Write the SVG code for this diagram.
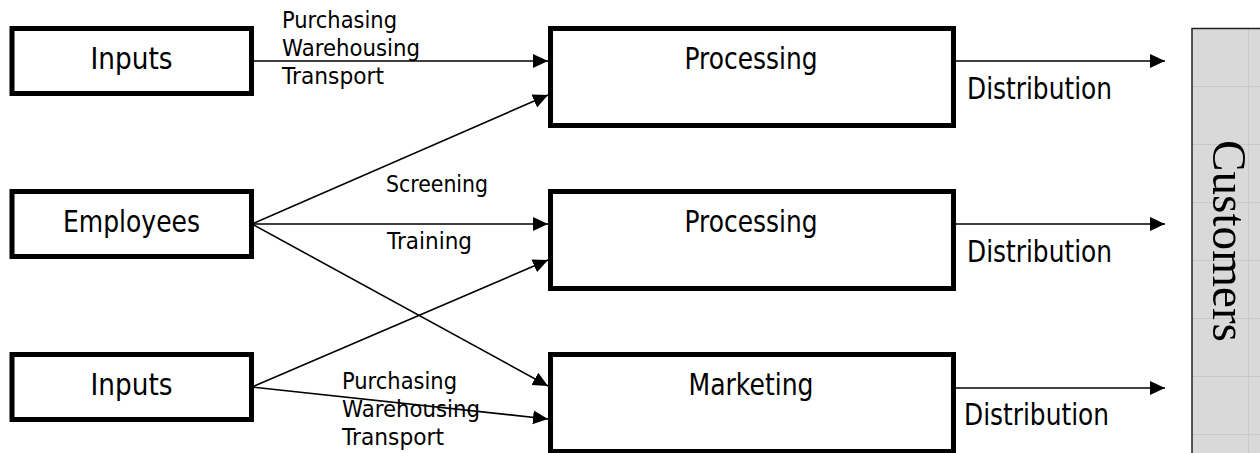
<svg xmlns="http://www.w3.org/2000/svg" width="1260" height="453" viewBox="0 0 1260 453">
<style>
.box{fill:#fff;stroke:#000;stroke-width:5}
.lbl{font-family:"DejaVu Sans","Liberation Sans",sans-serif;font-size:29.5px;fill:#000}
.sm{font-family:"DejaVu Sans","Liberation Sans",sans-serif;font-size:23.5px;fill:#000}
.conn{stroke:#000;stroke-width:1.6;fill:none;marker-end:url(#ah)}
</style>
<defs>
<marker id="ah" markerUnits="userSpaceOnUse" markerWidth="16" markerHeight="15" refX="15" refY="7" orient="auto">
<path d="M0,0 L15,7 L0,14 Z" fill="#000"/>
</marker>
<pattern id="grid" patternUnits="userSpaceOnUse" x="1192" y="28" width="58" height="58">
<rect width="58" height="58" fill="#d9d9d9"/>
<path d="M0,0.5 H58 M56.5,0 V58" stroke="#c9c9c9" stroke-width="1"/>
</pattern>
</defs>
<rect width="1260" height="453" fill="#fff"/>

<g id="connectors">
<line class="conn" x1="252" y1="61" x2="548" y2="61"/>
<line class="conn" x1="252" y1="224" x2="548" y2="95"/>
<line class="conn" x1="252" y1="224" x2="548" y2="224"/>
<line class="conn" x1="252" y1="224" x2="548" y2="386"/>
<line class="conn" x1="252" y1="387" x2="548" y2="260"/>
<line class="conn" x1="252" y1="387" x2="548" y2="419"/>
<line class="conn" x1="956" y1="61" x2="1165" y2="61"/>
<line class="conn" x1="956" y1="224" x2="1165" y2="224"/>
<line class="conn" x1="956" y1="388" x2="1165" y2="388"/>
</g>

<g id="labels">
<text class="sm" x="282" y="28" textLength="115" lengthAdjust="spacingAndGlyphs">Purchasing</text>
<text class="sm" x="282" y="56" textLength="138" lengthAdjust="spacingAndGlyphs">Warehousing</text>
<text class="sm" x="282" y="84" textLength="102" lengthAdjust="spacingAndGlyphs">Transport</text>
<text class="sm" x="386" y="192" textLength="102" lengthAdjust="spacingAndGlyphs">Screening</text>
<text class="sm" x="387" y="249" textLength="85" lengthAdjust="spacingAndGlyphs">Training</text>
<text class="sm" x="342" y="389" textLength="115" lengthAdjust="spacingAndGlyphs">Purchasing</text>
<text class="sm" x="342" y="417" textLength="138" lengthAdjust="spacingAndGlyphs">Warehousing</text>
<text class="sm" x="342" y="445" textLength="102" lengthAdjust="spacingAndGlyphs">Transport</text>
<text class="lbl" x="967" y="99" textLength="145" lengthAdjust="spacingAndGlyphs">Distribution</text>
<text class="lbl" x="967" y="262" textLength="145" lengthAdjust="spacingAndGlyphs">Distribution</text>
<text class="lbl" x="964" y="425" textLength="145" lengthAdjust="spacingAndGlyphs">Distribution</text>
</g>

<g id="inputs-top">
<rect class="box" x="12" y="28.5" width="239.5" height="65"/>
<text class="lbl" x="131.5" y="69" text-anchor="middle" textLength="82" lengthAdjust="spacingAndGlyphs">Inputs</text>
</g>
<g id="employees">
<rect class="box" x="12" y="191.5" width="239.5" height="65"/>
<text class="lbl" x="131.5" y="232" text-anchor="middle" textLength="137" lengthAdjust="spacingAndGlyphs">Employees</text>
</g>
<g id="inputs-bottom">
<rect class="box" x="12" y="354.5" width="239.5" height="65"/>
<text class="lbl" x="131.5" y="395" text-anchor="middle" textLength="82" lengthAdjust="spacingAndGlyphs">Inputs</text>
</g>
<g id="processing-1">
<rect class="box" x="550.5" y="28.5" width="403" height="97"/>
<text class="lbl" x="751" y="69" text-anchor="middle" textLength="133" lengthAdjust="spacingAndGlyphs">Processing</text>
</g>
<g id="processing-2">
<rect class="box" x="550.5" y="191.5" width="403" height="97"/>
<text class="lbl" x="751" y="232" text-anchor="middle" textLength="133" lengthAdjust="spacingAndGlyphs">Processing</text>
</g>
<g id="marketing">
<rect class="box" x="550.5" y="354.5" width="403" height="97"/>
<text class="lbl" x="751" y="395" text-anchor="middle" textLength="125" lengthAdjust="spacingAndGlyphs">Marketing</text>
</g>
<g id="customers">
<rect x="1192" y="28.5" width="80" height="430" fill="url(#grid)" stroke="#222" stroke-width="1.5"/>
<text transform="translate(1213,140) rotate(90)" x="0" y="0" font-family="'Liberation Serif','Times New Roman',serif" font-size="49" textLength="202" lengthAdjust="spacingAndGlyphs" fill="#000">Customers</text>
</g>
</svg>
